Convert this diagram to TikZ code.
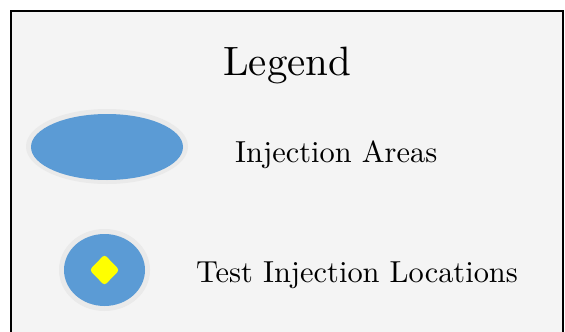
\documentclass[tikz,border=0pt]{standalone}
\usepackage{fontspec}
\setmainfont{lmroman10-regular}[Extension=.otf]
\usetikzlibrary{shapes.geometric}
\definecolor{bgfill}{HTML}{F4F4F4}
\definecolor{glow}{HTML}{EAEAEA}
\definecolor{areablue}{HTML}{5B9BD5}
\definecolor{spot}{HTML}{FFFF00}
\tikzset{
  lbl/.style={anchor=base west, inner sep=0pt, font=\fontsize{30.4}{36}\selectfont},
  glowring/.style={fill=glow, draw=none},
  bluefill/.style={fill=areablue, draw=none}
}
\begin{document}
\begin{tikzpicture}[x=1pt,y=-1pt]
\useasboundingbox (0,0) rectangle (565,332);
\clip (0,0) rectangle (565,332);
\fill[white] (0,0) rectangle (565,332);
\draw[line width=2pt, fill=bgfill] (11,11) rectangle (563,345);
% title
\node[anchor=base west, inner sep=0pt, font=\fontsize{41}{48}\selectfont] (title) at (223,75) {Legend};
% injection area ellipse
\fill[glowring] (107,146.5) ellipse [x radius=81, y radius=37.5];
\fill[bluefill] (107,147) ellipse [x radius=76, y radius=33];
\node[lbl] (areas) at (235,162) {Injection Areas};
% test injection location
\fill[glowring] (104.5,270) ellipse [x radius=45.5, y radius=41];
\fill[bluefill] (104.5,270) ellipse [x radius=40.5, y radius=36];
\node[diamond, fill=spot, draw=none, rounded corners=3pt, minimum width=30pt, minimum height=31pt, inner sep=0pt] (spotmark) at (104.5,270) {};
\node[lbl] (tests) at (196,282) {Test Injection Locations};
\end{tikzpicture}
\end{document}
